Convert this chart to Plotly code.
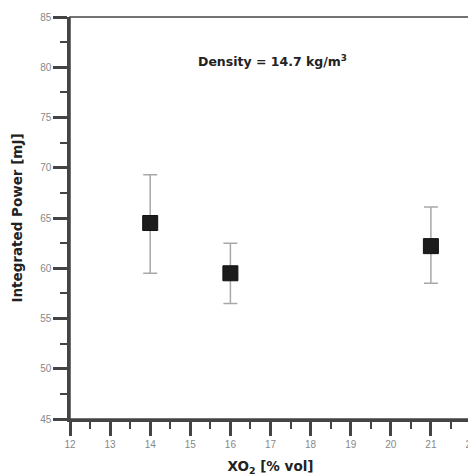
import plotly.graph_objects as go

x_o2 = [14, 16, 21]
power = [64.5, 59.5, 62.2]
err_plus = [4.8, 3.0, 3.9]
err_minus = [5.0, 3.0, 3.7]

x_ticks = list(range(12, 23))
y_ticks = list(range(45, 90, 5))

fig = go.Figure()
fig.add_trace(go.Scatter(
    x=x_o2, y=power, mode="markers",
    marker=dict(symbol="square", size=15, color="#1c1c1c", line=dict(color="#111", width=1)),
    error_y=dict(type="data", symmetric=False, array=err_plus, arrayminus=err_minus,
                 color="#a8a8a8", thickness=1.5, width=7),
    showlegend=False,
))

axis_common = dict(
    showgrid=False, zeroline=False, showline=True, linecolor="#444", linewidth=2.5,
    ticks="outside", ticklen=14, tickwidth=2.5, tickcolor="#444", automargin=False,
    ticklabeloverflow="allow",
    tickfont=dict(family="Liberation Sans, Arial", size=10, color="#888"),
)
title_font = "DejaVu Sans, Liberation Sans, Arial"
fig.update_xaxes(range=[12, 22], tickvals=x_ticks, ticktext=[str(v) for v in x_ticks],
                 minor=dict(ticks="outside", ticklen=7, dtick=0.5, tickwidth=2, tickcolor="#444"),
                 title=dict(text="<b>XO<sub>2</sub> [% vol]</b>", font=dict(family=title_font, size=13.5, color="#222")),
                 **axis_common)
fig.update_yaxes(range=[45, 85], tickvals=y_ticks, ticktext=[str(v) for v in y_ticks],
                 minor=dict(ticks="outside", ticklen=7, dtick=2.5, tickwidth=2, tickcolor="#444"),
                 title=dict(text="<b>Integrated Power [mJ]</b>", font=dict(family=title_font, size=13.5, color="#222")),
                 **axis_common)

fig.add_shape(type="rect", xref="paper", yref="paper", x0=0, y0=0, x1=1, y1=1,
              line=dict(color="#444", width=1.5))

fig.add_annotation(x=17.05, y=80.6, xref="x", yref="y", showarrow=False,
                   text="<b>Density = 14.7 kg/m<sup>3</sup></b>",
                   font=dict(family=title_font, size=12.5, color="#222"))

fig.update_layout(width=468, height=468, margin=dict(l=62, r=5, t=9, b=57),
                  paper_bgcolor="white", plot_bgcolor="white")
fig.write_html("out.html")
